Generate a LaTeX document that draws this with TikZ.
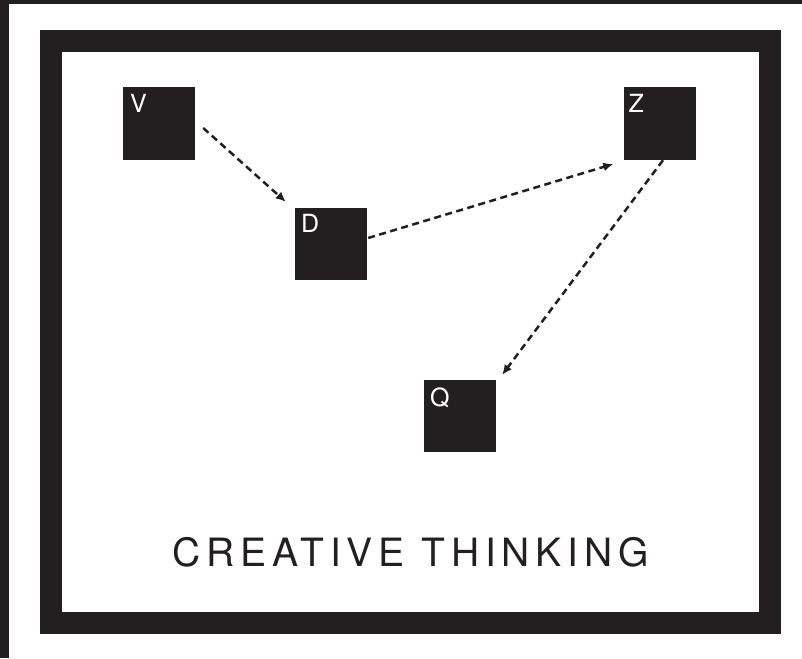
\documentclass[tikz,border=0pt]{standalone}
\usepackage{fontspec}
\setmainfont{TeX Gyre Heros}
\newfontfamily\titlefont[LetterSpace=15]{TeX Gyre Heros}
\usetikzlibrary{arrows.meta,calc}
\definecolor{ink}{HTML}{231F20}
\tikzset{
  box/.style={fill=ink, draw=none, minimum width=72pt, minimum height=72pt, inner sep=0pt},
  boxlabel/.style={anchor=north west, inner sep=0pt, text=white, font=\fontsize{25}{25}\selectfont},
  flow/.style={draw=ink, line width=2.5pt, dash pattern=on 7pt off 4.5pt, -{Latex[length=10pt,width=9pt]}},
}
\begin{document}
\begin{tikzpicture}[x=1pt,y=-1pt]
\useasboundingbox (0,0) rectangle (802,658);
% outer thin border (left and top)
\fill[ink] (0,0) rectangle (9,658);
\fill[ink] (0,0) rectangle (802,4);
% thick frame
\draw[ink, line width=22pt] (50.5,41.5) rectangle (769.5,623);
% squares
\node[box] (V) at (159,123.5) {};
\node[box] (Z) at (659.5,123.5) {};
\node[box] (D) at (331,243.5) {};
\node[box] (Q) at (460,416) {};
\node[boxlabel] (Vl) at ($(V.north west)+(7,7)$) {V};
\node[boxlabel] (Zl) at ($(Z.north west)+(5,7)$) {Z};
\node[boxlabel] (Dl) at ($(D.north west)+(6,7)$) {D};
\node[boxlabel] (Ql) at ($(Q.north west)+(6,8)$) {Q};
% connector ends
\coordinate (V-out) at ($(V.east)+(8,4.5)$);
\coordinate (D-in) at ($(D.north west)+(-9,-5.5)$);
\coordinate (D-out) at ($(D.east)+(1,-5.5)$);
\coordinate (Z-in) at ($(Z.west)+(-10,40.5)$);
\coordinate (Z-out) at ($(Z.south)+(3.5,0.5)$);
\coordinate (Q-in) at ($(Q.north east)+(6,-5)$);
\draw[flow] (V-out) -- (D-in);
\draw[flow] (D-out) -- (Z-in);
\draw[flow] (Z-out) -- (Q-in);
% title
\node[anchor=base, inner sep=0pt, text=ink, font=\titlefont\fontsize{39}{39}\selectfont] (title) at (410.5,566.5) {CREATIVE THINKING};
\end{tikzpicture}
\end{document}
